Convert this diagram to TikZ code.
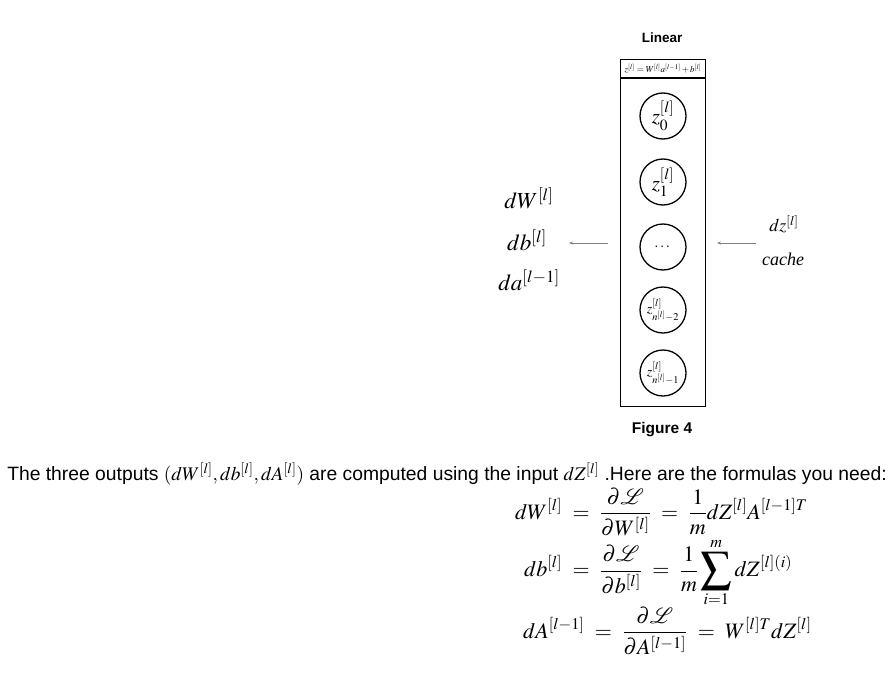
\documentclass[tikz,border=0pt]{standalone}
\usepackage{amsmath}
\usepackage{graphicx}
\usepackage{mathptmx}
\usepackage{fontspec}
\setmainfont{Liberation Sans}
\newfontfamily\tnr{Liberation Serif}
\usetikzlibrary{arrows.meta}
\newcommand{\bigsum}{\mathop{\vcenter{\hbox{\scalebox{1.4}{$\displaystyle\sum$}}}}\limits}
\newcommand{\wideq}{\thickmuskip=8.5mu plus 2mu\relax}
\tikzset{
  unit/.style={circle,draw,line width=1.3pt,minimum size=46pt,inner sep=0pt},
  flow/.style={draw=gray,line width=0.8pt,-{Stealth[length=4pt,width=3pt]}},
  frame/.style={draw,line width=1.6pt},
  biglab/.style={inner sep=0pt,font=\fontsize{23}{25}\selectfont},
  smalllab/.style={inner sep=0pt,font=\fontsize{18}{20}\selectfont},
  eqn/.style={inner sep=0pt,font=\fontsize{22}{26}\selectfont,anchor=west},
}
\begin{document}
\begin{tikzpicture}[x=1pt,y=-1pt]
\useasboundingbox (0,0) rectangle (891,677);
% frame
\node[frame,minimum width=85pt,minimum height=347pt,inner sep=0pt] (box) at (663,233) {};
\coordinate (hl) at (620.5,78);
\coordinate (hr) at (705.5,78);
\draw[line width=1.2pt] (hl) -- (hr);
\node[inner sep=0pt,font=\fontsize{9}{10}\selectfont] (hdr) at (663,69) {$z^{[l]}=W^{[l]}a^{[l-1]}+b^{[l]}$};
\node[font=\bfseries\fontsize{13.5}{15}\selectfont,inner sep=0pt] (title) at (662,38) {Linear};
\node[font=\bfseries\fontsize{15.5}{17}\selectfont,inner sep=0pt] (fig) at (662,430) {Figure 4};
% units
\node[unit,font=\fontsize{21}{23}\selectfont] (u0) at (663,116) {$z_0^{[l]}$};
\node[unit,font=\fontsize{21}{23}\selectfont] (u1) at (663,182) {$z_1^{[l]}$};
\node[unit,font=\fontsize{15}{17}\selectfont] (u2) at (663,247) {$\cdots$};
\node[unit,font=\fontsize{14}{16}\selectfont] (u3) at (663,310) {$z_{n^{[l]}-2}^{[l]}$};
\node[unit,font=\fontsize{14}{16}\selectfont] (u4) at (663,373) {$z_{n^{[l]}-1}^{[l]}$};
% arrows
\coordinate (la) at (608,243);
\coordinate (lb) at (569,243);
\draw[flow] (la) -- (lb);
\coordinate (ra) at (756,243);
\coordinate (rb) at (717,243);
\draw[flow] (ra) -- (rb);
% labels left
\node[biglab] (dW) at (529,198) {$dW^{[l]}$};
\node[biglab] (db) at (527,240) {$db^{[l]}$};
\node[biglab] (da) at (529,280) {$da^{[l-1]}$};
% labels right
\node[smalllab] (dz) at (784,224) {$dz^{[l]}$};
\node[smalllab] (cache) at (783,259) {\tnr\itshape cache};
% sentence
\node[inner sep=0pt,font=\fontsize{19.3}{22}\selectfont] (txt) at (447,474) {The three outputs $(dW^{[l]}, db^{[l]}, dA^{[l]})$ are computed using the input $dZ^{[l]}$ .Here are the formulas you need:};
% equations
\node[eqn] (e1) at (515,512) {$\wideq\displaystyle dW^{[l]} = \frac{\partial \mathcal{L}}{\partial W^{[l]}} = \frac{1}{m} dZ^{[l]} A^{[l-1] T}$};
\node[eqn] (e2) at (524,573) {$\wideq\displaystyle db^{[l]} = \frac{\partial \mathcal{L}}{\partial b^{[l]}} = \frac{1}{m} \bigsum_{i = 1}^{m} dZ^{[l](i)}$};
\node[eqn] (e3) at (523,631) {$\wideq\displaystyle dA^{[l-1]} = \frac{\partial \mathcal{L}}{\partial A^{[l-1]}} = W^{[l] T} dZ^{[l]}$};
\end{tikzpicture}
\end{document}
